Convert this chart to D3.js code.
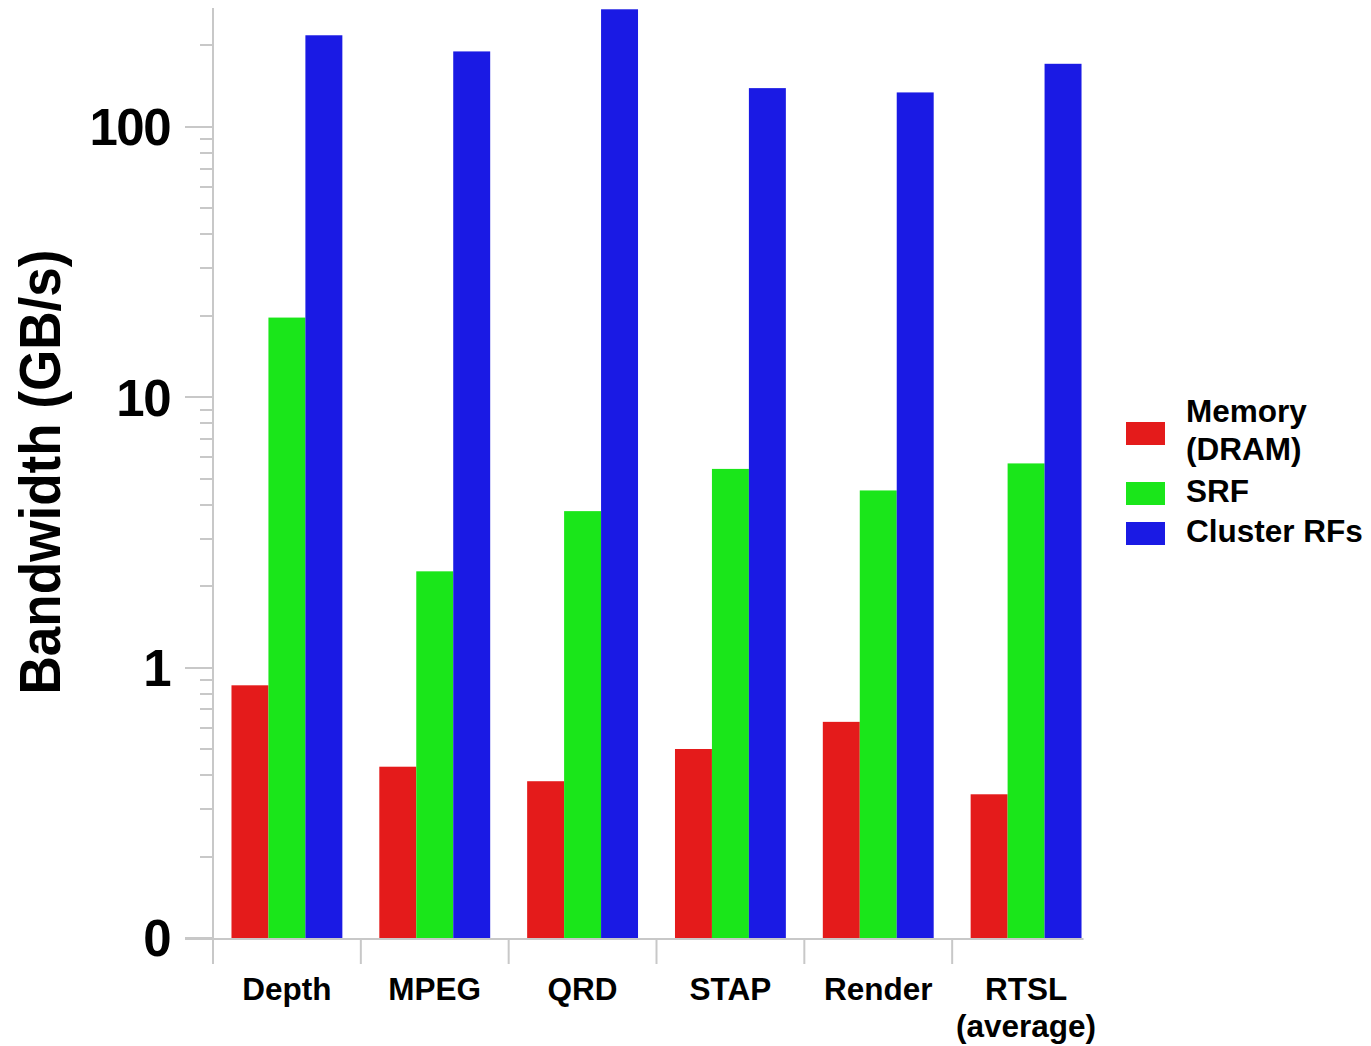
<!DOCTYPE html>
<html>
<head>
<meta charset="utf-8">
<script src="https://cdn.jsdelivr.net/npm/d3@7"></script>
<style>
  html, body { margin: 0; padding: 0; background: #ffffff; }
  svg { display: block; }
  text { font-family: "Liberation Sans", Arial, Helvetica, sans-serif; font-weight: bold; fill: #000; }
</style>
</head>
<body>
<svg id="chart" width="1371" height="1046"></svg>
<script>
// Benchmarks along the x axis ("\n" splits a label onto two lines)
const categories = ["Depth", "MPEG", "QRD", "STAP", "Render", "RTSL\n(average)"];

// Series names and bandwidth values in GB/s
const seriesNames = ["Memory\n(DRAM)", "SRF", "Cluster RFs"];
const memoryDRAM = [0.86, 0.43, 0.38, 0.50, 0.63, 0.34];
const srf        = [19.7, 2.27, 3.79, 5.43, 4.52, 5.69];
const clusterRFs = [218, 190, 272, 139, 134, 171];

// Labelled y ticks (the bottom of the log axis is shown as "0")
const yTickValues = [0.1, 1, 10, 100];
const yTickLabels = ["0", "1", "10", "100"];

const seriesColors = ["#e41b1b", "#1ae61a", "#1a1ae4"];
const seriesValues = [memoryDRAM, srf, clusterRFs];

const svg = d3.select("#chart");
const axisGray = "#c8c8c8";

const plotLeft = 213, plotRight = 1100, plotTop = 8, plotBottom = 938;

const x = d3.scaleBand().domain(categories).range([plotLeft, plotRight]).paddingInner(0).paddingOuter(0);
const xSub = d3.scaleBand().domain(d3.range(seriesNames.length)).range([0, x.bandwidth()]).paddingInner(0).paddingOuter(0.5);
const y = d3.scaleLog().domain([0.1, 275]).range([plotBottom, plotTop]);

// Bars
const groups = svg.append("g").selectAll("g")
  .data(categories)
  .join("g")
  .attr("transform", d => `translate(${x(d)},0)`);

groups.selectAll("rect")
  .data((c, i) => seriesValues.map((vals, s) => ({ s, v: vals[i] })))
  .join("rect")
  .attr("x", d => xSub(d.s))
  .attr("width", xSub.bandwidth())
  .attr("y", d => y(d.v))
  .attr("height", d => plotBottom - y(d.v))
  .attr("fill", d => seriesColors[d.s]);

// Y axis: minor ticks for every 2..9 multiple, major ticks at decades
const axisG = svg.append("g").attr("stroke", axisGray).attr("stroke-width", 2);
const minorTicks = y.ticks().filter(v => !Number.isInteger(Math.round(Math.log10(v) * 1000) / 1000));
axisG.selectAll("line.minor")
  .data(minorTicks)
  .join("line")
  .attr("class", "minor")
  .attr("x1", plotLeft - 13).attr("x2", plotLeft)
  .attr("y1", d => Math.round(y(d))).attr("y2", d => Math.round(y(d)));
axisG.selectAll("line.major")
  .data(yTickValues)
  .join("line")
  .attr("class", "major")
  .attr("x1", plotLeft - 28).attr("x2", plotLeft)
  .attr("y1", d => Math.round(y(d))).attr("y2", d => Math.round(y(d)));

// Axis line, baseline and category separators
axisG.append("line")
  .attr("x1", plotLeft).attr("x2", plotLeft)
  .attr("y1", plotTop).attr("y2", plotBottom + 26);
axisG.append("line")
  .attr("x1", plotLeft - 28).attr("x2", x(categories[categories.length - 1]) + xSub(2) + xSub.bandwidth() + 2)
  .attr("y1", plotBottom + 1).attr("y2", plotBottom + 1);
axisG.selectAll("line.sep")
  .data(categories.slice(1))
  .join("line")
  .attr("class", "sep")
  .attr("x1", d => x(d)).attr("x2", d => x(d))
  .attr("y1", plotBottom + 1).attr("y2", plotBottom + 26);

// Y tick labels
svg.append("g").selectAll("text")
  .data(yTickValues)
  .join("text")
  .attr("x", 170)
  .attr("y", d => y(d))
  .attr("dy", "0.36em")
  .attr("text-anchor", "end")
  .attr("font-size", 51)
  .attr("letter-spacing", -1.5)
  .text((d, i) => yTickLabels[i]);

// Y axis title
svg.append("text")
  .attr("transform", "translate(60,472) rotate(-90)")
  .attr("text-anchor", "middle")
  .attr("font-size", 58)
  .attr("textLength", 445)
  .attr("lengthAdjust", "spacingAndGlyphs")
  .text("Bandwidth (GB/s)");

// X category labels
const xLabels = svg.append("g").selectAll("text")
  .data(categories)
  .join("text")
  .attr("x", d => x(d) + x.bandwidth() / 2)
  .attr("y", 1000)
  .attr("text-anchor", "middle")
  .attr("font-size", 31.5);
xLabels.selectAll("tspan")
  .data(d => d.split("\n"))
  .join("tspan")
  .attr("x", function () { return this.parentNode.getAttribute("x"); })
  .attr("dy", (d, i) => i === 0 ? 0 : 37)
  .text(d => d);

// Legend
const legendRows = [
  { swatchY: 422, textY: 422 },
  { swatchY: 482, textY: 502 },
  { swatchY: 522, textY: 542 }
];
const legend = svg.append("g");
legend.selectAll("rect")
  .data(seriesNames)
  .join("rect")
  .attr("x", 1126)
  .attr("y", (d, i) => legendRows[i].swatchY)
  .attr("width", 39)
  .attr("height", 23)
  .attr("fill", (d, i) => seriesColors[i]);
const legendText = legend.selectAll("text")
  .data(seriesNames)
  .join("text")
  .attr("x", 1186)
  .attr("y", (d, i) => legendRows[i].textY)
  .attr("font-size", 31.5);
legendText.selectAll("tspan")
  .data(d => d.split("\n"))
  .join("tspan")
  .attr("x", 1186)
  .attr("dy", (d, i) => i === 0 ? 0 : 38)
  .text(d => d);
</script>
</body>
</html>
